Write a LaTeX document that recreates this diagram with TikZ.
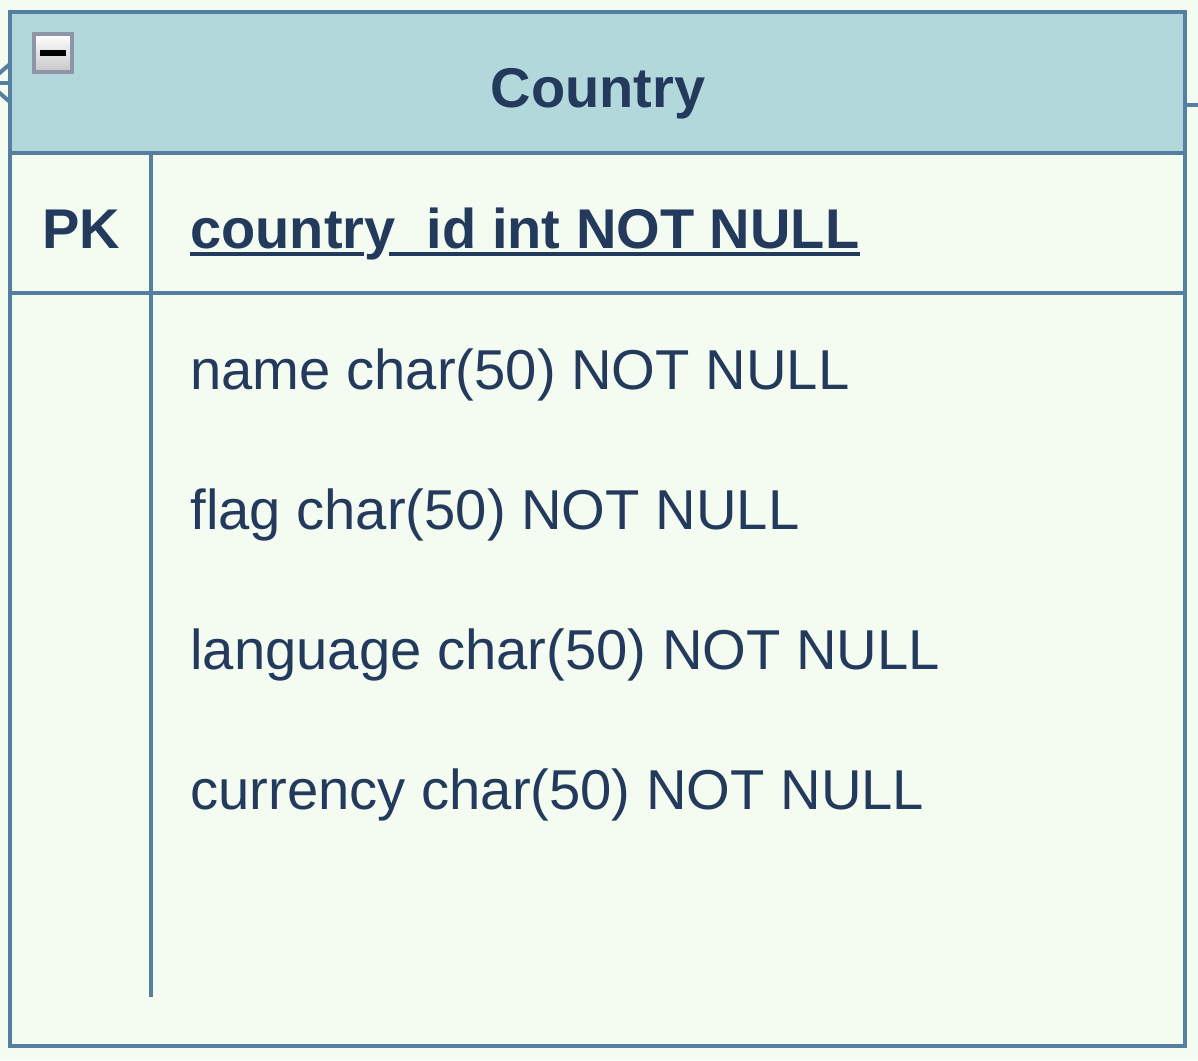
\documentclass[tikz,border=0pt]{standalone}
\usepackage{fontspec}
\setmainfont{Liberation Sans}
\usetikzlibrary{positioning,calc}
\definecolor{edgeblue}{HTML}{557FA0}
\definecolor{headfill}{HTML}{B2D8DB}
\definecolor{bodyfill}{HTML}{F4FBF1}
\definecolor{inkblue}{HTML}{233A5C}
\definecolor{togglegray}{HTML}{8E96A6}
\tikzstyle{frame} = [draw=edgeblue, line width=2.2pt]
\tikzstyle{rel} = [draw=edgeblue, line width=2pt]
\tikzstyle{field} = [inner sep=0pt, text=inkblue, text height=20pt, text depth=6pt, anchor=west]
\tikzstyle{key} = [field, font=\fontsize{28}{34}\selectfont\bfseries]
\tikzstyle{uline} = [draw=inkblue, line width=1.6pt]
\tikzstyle{toggle} = [draw=togglegray, line width=2pt, rectangle, minimum size=19pt, top color=white, bottom color=black!22, inner sep=0pt]
\begin{document}
\begin{tikzpicture}[x=0.5pt, y=-0.5pt, font=\fontsize{28.1}{34}\selectfont]
        \fill[bodyfill] (0,0) rectangle (1198,1060);
        \useasboundingbox (0,0) rectangle (1198,1060);
        % relations leaving the table
        \coordinate (foot) at (-12,83);
        \coordinate (stub) at (1198,105);
        \path[rel] (foot) -- (10,64);
        \path[rel] (foot) -- (10,83);
        \path[rel] (foot) -- (10,102);
        \path[rel] (1185,105) -- (stub);
        % table
        \filldraw[frame, fill=headfill] (10,12) rectangle (1185,153);
        \draw[frame] (10,153) rectangle (1185,1046);
        \draw[frame] (10,293) -- (1185,293);
        \draw[frame] (151,153) -- (151,997);
        \node[toggle] (collapse) at (53,53) {};
        \fill[black] (40,50) rectangle (66,56);
        \node[key, anchor=center] (title) at (598,93) {Country};
        \node[key, anchor=center] (pk) at (81,234) {PK};
        \node[key] (countryid) at (190,234) {country\_id int NOT NULL};
        \coordinate (ul) at (0,254);
        \path[uline] (countryid.base west |- ul) -- (364,254) (389,254) -- (countryid.base east |- ul);
        \node[field] (name) at (190,375) {name char(50) NOT NULL};
        \node[field, below=70pt of name.west, anchor=west] (flag) {flag char(50) NOT NULL};
        \node[field, below=70pt of flag.west, anchor=west] (language) {language char(50) NOT NULL};
        \node[field, below=70pt of language.west, anchor=west] (currency) {currency char(50) NOT NULL};
\end{tikzpicture}
\end{document}
